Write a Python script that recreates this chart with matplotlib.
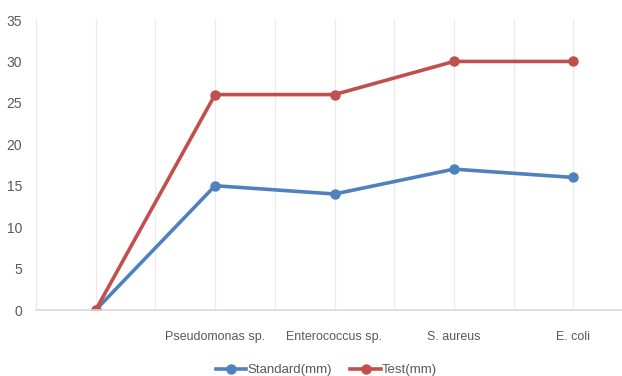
import matplotlib.pyplot as plt
import numpy as np

categories = ["", "Pseudomonas sp.", "Enterococcus sp.", "S. aureus", "E. coli"]
standard = [0, 15, 14, 17, 16]
test = [0, 26, 26, 30, 30]

plt.rcParams['font.family'] = ['Liberation Sans', 'DejaVu Sans']

fig = plt.figure(figsize=(6.22, 3.76), dpi=100)
ax = fig.add_axes([36/622, 66/376, 586/622, 290/376])

# each category sits on every second gridline
x = 1 + 2 * np.arange(len(categories))
for g in np.arange(0, 10):
    ax.axvline(g, color='#EBEBEB', lw=1.0, zorder=0)

ax.plot(x, standard, color='#4F81BD', lw=2.6, marker='o', ms=6.5, label='Standard(mm)')
ax.plot(x, test, color='#C0504D', lw=2.6, marker='o', ms=6.5, label='Test(mm)')

ax.set_xlim(0, 586/59.7)
ax.set_ylim(0, 35)
ax.set_yticks(range(0, 36, 5))
ax.set_xticks(x)
ax.set_xticklabels(categories)
ax.tick_params(which='both', length=0)
ax.tick_params(axis='y', labelsize=10, labelcolor='#595959', pad=10)
ax.tick_params(axis='x', labelsize=9, labelcolor='#595959', pad=15)

for s in ['top', 'right', 'left']:
    ax.spines[s].set_visible(False)
ax.spines['bottom'].set_color('#D9D9D9')
ax.spines['bottom'].set_linewidth(1.2)

leg = fig.legend(loc='lower center', bbox_to_anchor=(0.525, -0.032), ncol=2, frameon=False,
                 fontsize=9.5, handlelength=2.3, columnspacing=1.4, handletextpad=0.1)
for t in leg.get_texts():
    t.set_color('#595959')

fig.savefig('out.png', dpi=100)
